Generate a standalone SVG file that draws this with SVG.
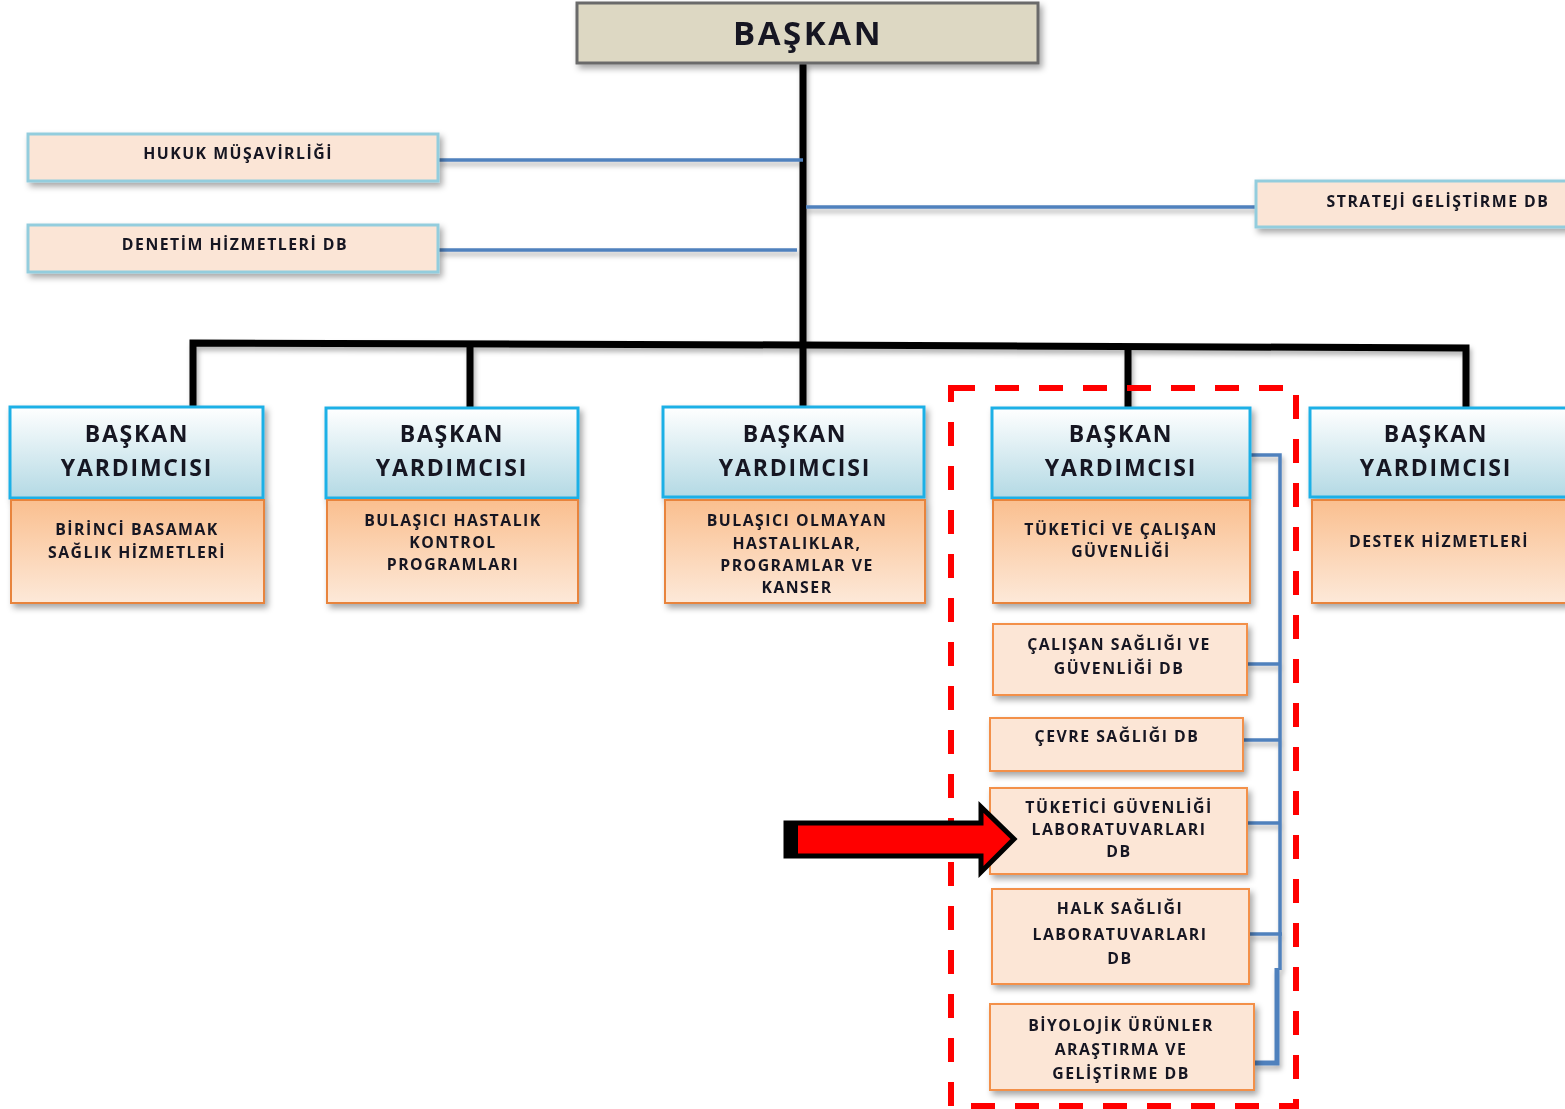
<svg xmlns="http://www.w3.org/2000/svg" width="1565" height="1109" viewBox="0 0 1565 1109">
<defs>
<linearGradient id="gHead" x1="0" y1="0" x2="0" y2="1"><stop offset="0" stop-color="#ffffff"/><stop offset="1" stop-color="#b3d9e4"/></linearGradient>
<linearGradient id="gSub" x1="0" y1="0" x2="0" y2="1"><stop offset="0" stop-color="#fabf8f"/><stop offset="1" stop-color="#fde9d9"/></linearGradient>
<filter id="sh" x="-10%" y="-10%" width="130%" height="140%"><feDropShadow dx="3" dy="4" stdDeviation="3" flood-color="#000" flood-opacity="0.35"/></filter>
<filter id="lsh" x="-5%" y="-50%" width="110%" height="300%"><feDropShadow dx="2" dy="4" stdDeviation="2.5" flood-color="#000" flood-opacity="0.3"/></filter>
<style>
text{font-family:"Open Sans","DejaVu Sans",sans-serif;font-weight:700;fill:#151521;text-anchor:middle}
.top{font-size:33px;letter-spacing:2.6px}
.vp{font-size:23px;letter-spacing:1.8px}
.s{font-size:15.8px;letter-spacing:1.5px}
.head{fill:url(#gHead);stroke:#1fb0e6;stroke-width:3}
.sub{fill:url(#gSub);stroke:#e8843e;stroke-width:2}
.side{fill:#fbe5d6;stroke:#93cddd;stroke-width:3}
.unit{fill:#fce6d6;stroke:#f3904a;stroke-width:2}
.blk{stroke:#000;stroke-width:7;fill:none}
.blu{stroke:#4f81bd;stroke-width:3.5;fill:none}
</style>
</defs>
<g id="connectors">
<g filter="url(#lsh)">
<line class="blk" x1="803" y1="62" x2="803" y2="408"/>
<polyline class="blk" points="193,408 193,343 803,345 1466,348 1466,408"/>
<line class="blk" x1="470" y1="345" x2="470" y2="408"/>
<line class="blk" x1="1128" y1="347" x2="1128" y2="408"/>
<line class="blu" x1="438" y1="160" x2="803" y2="160"/>
<line class="blu" x1="438" y1="250" x2="797" y2="250"/>
<line class="blu" x1="806" y1="207" x2="1256" y2="207"/>
<polyline class="blu" points="1250,455 1280,455 1280,970"/>
<line class="blu" x1="1247" y1="664" x2="1280" y2="664"/>
<line class="blu" x1="1243" y1="740" x2="1280" y2="740"/>
<line class="blu" x1="1247" y1="823" x2="1280" y2="823"/>
<line class="blu" x1="1249" y1="934" x2="1282" y2="934"/>
<polyline points="1277,968 1277,1063 1254,1063" fill="none" stroke="#4f81bd" stroke-width="5"/>
</g>
</g>
<g id="baskan" filter="url(#sh)">
<rect x="577" y="3" width="461" height="60" fill="#ddd8c3" stroke="#6b6b6b" stroke-width="3"/>
<text class="top" x="808" y="45">BAŞKAN</text>
</g>
<g id="hukuk" filter="url(#sh)">
<rect class="side" x="28" y="134" width="410" height="47"/>
<text class="s" x="238" y="159">HUKUK MÜŞAVİRLİĞİ</text>
</g>
<g id="denetim" filter="url(#sh)">
<rect class="side" x="28" y="225" width="410" height="47"/>
<text class="s" x="235" y="250">DENETİM HİZMETLERİ DB</text>
</g>
<g id="strateji" filter="url(#sh)">
<rect class="side" x="1256" y="181" width="315" height="46"/>
<text class="s" x="1438" y="207">STRATEJİ GELİŞTİRME DB</text>
</g>
<g id="vp1" filter="url(#sh)">
<rect class="head" x="10" y="407" width="253" height="91"/>
<text class="vp" x="137" y="442">BAŞKAN</text>
<text class="vp" x="137" y="476">YARDIMCISI</text>
<rect class="sub" x="11" y="500" width="253" height="103"/>
<text class="s" x="137" y="535">BİRİNCİ BASAMAK</text>
<text class="s" x="137" y="558">SAĞLIK HİZMETLERİ</text>
</g>
<g id="vp2" filter="url(#sh)">
<rect class="head" x="326" y="408" width="252" height="90"/>
<text class="vp" x="452" y="442">BAŞKAN</text>
<text class="vp" x="452" y="476">YARDIMCISI</text>
<rect class="sub" x="327" y="500" width="251" height="103"/>
<text class="s" x="453" y="526">BULAŞICI HASTALIK</text>
<text class="s" x="453" y="548">KONTROL</text>
<text class="s" x="453" y="570">PROGRAMLARI</text>
</g>
<g id="vp3" filter="url(#sh)">
<rect class="head" x="663" y="407" width="261" height="90"/>
<text class="vp" x="795" y="442">BAŞKAN</text>
<text class="vp" x="795" y="476">YARDIMCISI</text>
<rect class="sub" x="665" y="500" width="260" height="103"/>
<text class="s" x="797" y="526">BULAŞICI OLMAYAN</text>
<text class="s" x="797" y="549">HASTALIKLAR,</text>
<text class="s" x="797" y="571">PROGRAMLAR VE</text>
<text class="s" x="797" y="593">KANSER</text>
</g>
<g id="vp4" filter="url(#sh)">
<rect class="head" x="992" y="408" width="258" height="90"/>
<text class="vp" x="1121" y="442">BAŞKAN</text>
<text class="vp" x="1121" y="476">YARDIMCISI</text>
<rect class="sub" x="993" y="500" width="257" height="103"/>
<text class="s" x="1121" y="535">TÜKETİCİ VE ÇALIŞAN</text>
<text class="s" x="1121" y="557">GÜVENLİĞİ</text>
</g>
<g id="vp5" filter="url(#sh)">
<rect class="head" x="1310" y="408" width="260" height="89"/>
<text class="vp" x="1436" y="442">BAŞKAN</text>
<text class="vp" x="1436" y="476">YARDIMCISI</text>
<rect class="sub" x="1312" y="500" width="258" height="103"/>
<text class="s" x="1439" y="547">DESTEK HİZMETLERİ</text>
</g>
<g id="calisan" filter="url(#sh)">
<rect class="unit" x="993" y="624" width="254" height="71"/>
<text class="s" x="1119" y="650">ÇALIŞAN SAĞLIĞI VE</text>
<text class="s" x="1119" y="674">GÜVENLİĞİ DB</text>
</g>
<g id="cevre" filter="url(#sh)">
<rect class="unit" x="990" y="718" width="253" height="53"/>
<text class="s" x="1117" y="742">ÇEVRE SAĞLIĞI DB</text>
</g>
<g id="tuketici" filter="url(#sh)">
<rect class="unit" x="990" y="788" width="257" height="86"/>
<text class="s" x="1119" y="813">TÜKETİCİ GÜVENLİĞİ</text>
<text class="s" x="1119" y="835">LABORATUVARLARI</text>
<text class="s" x="1119" y="857">DB</text>
</g>
<g id="halk" filter="url(#sh)">
<rect class="unit" x="992" y="889" width="257" height="95"/>
<text class="s" x="1120" y="914">HALK SAĞLIĞI</text>
<text class="s" x="1120" y="940">LABORATUVARLARI</text>
<text class="s" x="1120" y="964">DB</text>
</g>
<g id="biyolojik" filter="url(#sh)">
<rect class="unit" x="990" y="1004" width="264" height="86"/>
<text class="s" x="1121" y="1031">BİYOLOJİK ÜRÜNLER</text>
<text class="s" x="1121" y="1055">ARAŞTIRMA VE</text>
<text class="s" x="1121" y="1079">GELİŞTİRME DB</text>
</g>
<g id="highlight">
<rect x="951" y="388" width="345" height="718" fill="none" stroke="#ff0000" stroke-width="6" stroke-dasharray="24,20"/>
</g>
<g id="arrow">
<polygon points="786,823 981,823 981,807 1014,839 981,872 981,856 786,856" fill="#ff0000" stroke="#000" stroke-width="5" stroke-linejoin="miter"/>
<rect x="784" y="821" width="14" height="37" fill="#000"/>
</g>
</svg>
